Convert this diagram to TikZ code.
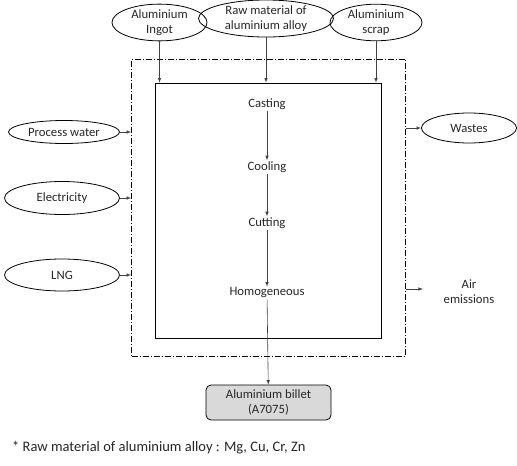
\documentclass[tikz,border=0pt]{standalone}
\usepackage{fontspec}
\setmainfont{Carlito}
\usetikzlibrary{shapes.geometric, arrows, positioning}
\definecolor{textgrey}{HTML}{262626}
\definecolor{billetgrey}{HTML}{D9D9D9}

\begin{document}
\begin{tikzpicture}[x=1pt, y=-1pt, font=\fontsize{12.7}{15}\selectfont, text=textgrey]
\tikzstyle{source} = [ellipse, draw=black, thick, align=center, inner sep=0pt]
\tikzstyle{stage} = [align=center, inner sep=1pt]
\tikzstyle{flow} = [-latex, black!75, semithick]
\tikzstyle{boundary} = [draw=black, semithick, dash pattern=on 6pt off 2pt on 1pt off 2pt]

\useasboundingbox (0,0) rectangle (517,466);

% system boundary and process box
\node (sysbox) [boundary, minimum width=274pt, minimum height=297pt, inner sep=0pt] at (268.5,207.5) {};
\node (process) [draw=black, thick, minimum width=226pt, minimum height=255pt, inner sep=0pt] at (268,210.5) {};

% inputs on top
\node (ingot) [source, minimum width=95pt, minimum height=35pt] at (159.5,22.5) {Aluminium\\Ingot};
\node (rawmat) [source, minimum width=135pt, minimum height=37pt] at (266,18.5) {Raw material of\\aluminium alloy};
\node (scrap) [source, minimum width=92pt, minimum height=35pt] at (376,22.5) {Aluminium\\scrap};

% inputs on the left
\node (water) [source, minimum width=111pt, minimum height=23pt] at (64,132) {Process water};
\node (elec) [source, minimum width=115pt, minimum height=33pt] at (62,198) {Electricity};
\node (lng) [source, minimum width=115pt, minimum height=32pt] at (62,275) {LNG};

% outputs
\node (wastes) [source, minimum width=95pt, minimum height=30pt] at (469,128) {Wastes};
\node (air) [stage] at (469,292) {Air\\emissions};
\coordinate (airout) at (423,289);

% process stages
\node (casting) [stage] at (267,104) {Casting};
\node (cooling) [stage] at (267,167) {Cooling};
\node (cutting) [stage] at (267,223) {Cutting};
\node (homog) [stage] at (267,293) {Homogeneous};

\node (billet) [rectangle, rounded corners=5pt, draw=black, thick, fill=billetgrey, minimum width=125pt, minimum height=35pt, align=center, inner sep=0pt] at (268.5,402.5) {Aluminium billet\\(A7075)};

\node (note) [anchor=west, inner sep=0pt, font=\fontsize{14.5}{16}\selectfont] at (12,448) {* Raw material of aluminium alloy : Mg, Cu, Cr, Zn};

\draw[flow] (ingot) -- (ingot |- process.north);
\draw[flow] (rawmat) -- (rawmat |- process.north);
\draw[flow] (scrap) -- (scrap |- process.north);

\draw[flow] (water.east) -- (water.east -| sysbox.west);
\draw[flow] (elec.east) -- (elec.east -| sysbox.west);
\draw[flow] (lng.east) -- (lng.east -| sysbox.west);

\draw[flow] (wastes.west -| sysbox.east) -- (wastes.west);
\draw[flow] (airout -| sysbox.east) -- (airout);

\draw[flow] (casting) -- (cooling);
\draw[flow] (cooling) -- (cutting);
\draw[flow] (cutting) -- (homog);
\draw[flow] (homog) -- (billet);

\end{tikzpicture}
\end{document}
